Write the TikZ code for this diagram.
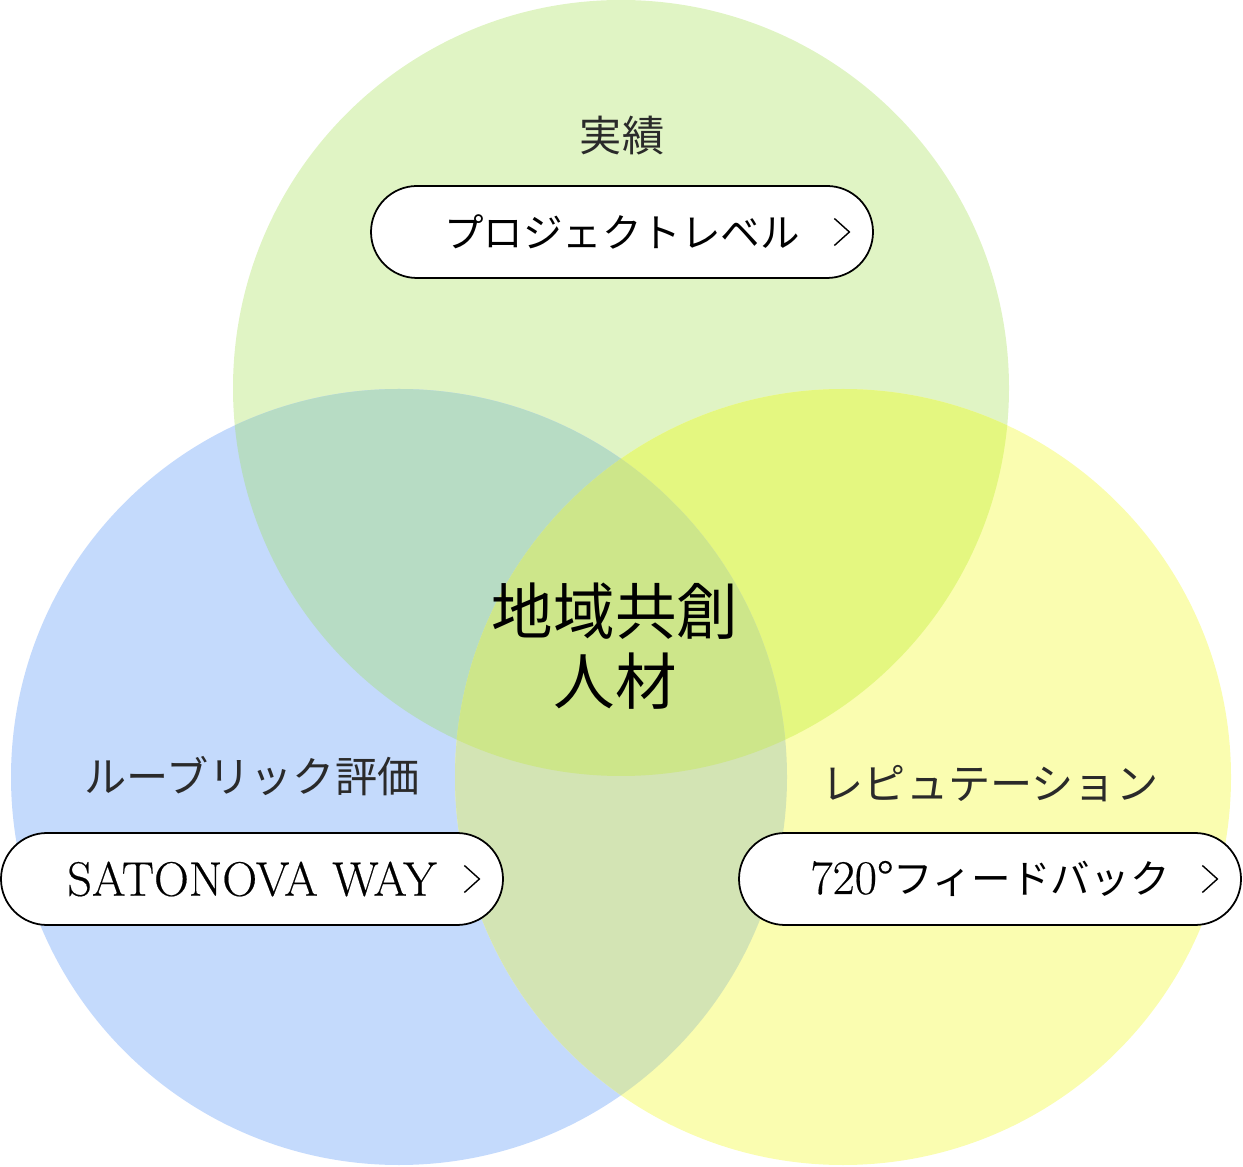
\documentclass[tikz,border=0pt]{standalone}
\usepackage{fontspec}
\newfontfamily\jpfont{Noto Sans CJK JP}
\newfontfamily\latinfont{Latin Modern Roman}[FakeBold=0.4]
\usepackage{tikz}
\usetikzlibrary{positioning}
\usepackage{xcolor}
\definecolor{topgreen}{HTML}{E0F4C4}
\definecolor{leftblue}{HTML}{C4DAFC}
\definecolor{rightyellow}{HTML}{FAFDB0}
\definecolor{greenblue}{HTML}{B7DCC4}
\definecolor{greenyellow}{HTML}{E4F780}
\definecolor{blueyellow}{HTML}{D3E4B4}
\definecolor{centre}{HTML}{CDE68A}
\definecolor{headgray}{HTML}{2A2A2A}
\tikzstyle{pill}    = [rectangle, rounded corners=0.92cm, minimum width=10.04cm, minimum height=1.84cm, text centered, draw=black, line width=1pt, fill=white, font=\jpfont\fontsize{22.5}{26}\selectfont]
\tikzstyle{heading} = [inner sep=0pt, text=headgray, font=\jpfont\fontsize{24}{28}\selectfont]
\tikzstyle{core}    = [inner sep=0pt, align=center, font=\jpfont\fontsize{35}{40}\selectfont]
\tikzstyle{chev}    = [line width=0.8pt, line join=miter]

\begin{document}
\begin{tikzpicture}
            \useasboundingbox (0,0) rectangle (24.86,23.32);
            \coordinate (ctop)   at (12.42,15.56);
            \coordinate (cleft)  at (7.98,7.78);
            \coordinate (cright) at (16.86,7.78);

            % circles and their overlaps
            \fill[topgreen]    (ctop)   circle (7.76cm);
            \fill[leftblue]    (cleft)  circle (7.76cm);
            \fill[rightyellow] (cright) circle (7.76cm);
            \begin{scope}
                \clip (ctop) circle (7.76cm);
                \fill[greenblue] (cleft) circle (7.76cm);
            \end{scope}
            \begin{scope}
                \clip (ctop) circle (7.76cm);
                \fill[greenyellow] (cright) circle (7.76cm);
            \end{scope}
            \begin{scope}
                \clip (cleft) circle (7.76cm);
                \fill[blueyellow] (cright) circle (7.76cm);
            \end{scope}
            \begin{scope}
                \clip (ctop) circle (7.76cm);
                \clip (cleft) circle (7.76cm);
                \fill[centre] (cright) circle (7.76cm);
            \end{scope}

            \node[pill]    (proj)    at (12.44,18.68) {プロジェクトレベル};
            \node[pill]    (way)     at (5.04,5.74)   {\latinfont\fontsize{27.5}{30}\selectfont SATONOVA WAY};
            \node[pill]    (fb)      at (19.80,5.74)  {{\latinfont\fontsize{27.5}{30}\selectfont 720°}フィードバック};
            \node[heading] (jisseki) [above=0.6cm of proj]  {実績};
            \node[heading] (rubric)  [above=0.72cm of way]  {ルーブリック評価};
            \node[heading] (repu)    [above=0.6cm of fb]    {レピュテーション};
            \node[core]    (jinzai)  at (12.30,10.40) {地域共創\\人材};

            \draw[chev] ([xshift=-0.79cm,yshift=0.27cm]proj.east) -- ([xshift=-0.49cm]proj.east) -- ([xshift=-0.79cm,yshift=-0.27cm]proj.east);
            \draw[chev] ([xshift=-0.79cm,yshift=0.27cm]way.east) -- ([xshift=-0.49cm]way.east) -- ([xshift=-0.79cm,yshift=-0.27cm]way.east);
            \draw[chev] ([xshift=-0.79cm,yshift=0.27cm]fb.east) -- ([xshift=-0.49cm]fb.east) -- ([xshift=-0.79cm,yshift=-0.27cm]fb.east);
        \end{tikzpicture}
\end{document}
